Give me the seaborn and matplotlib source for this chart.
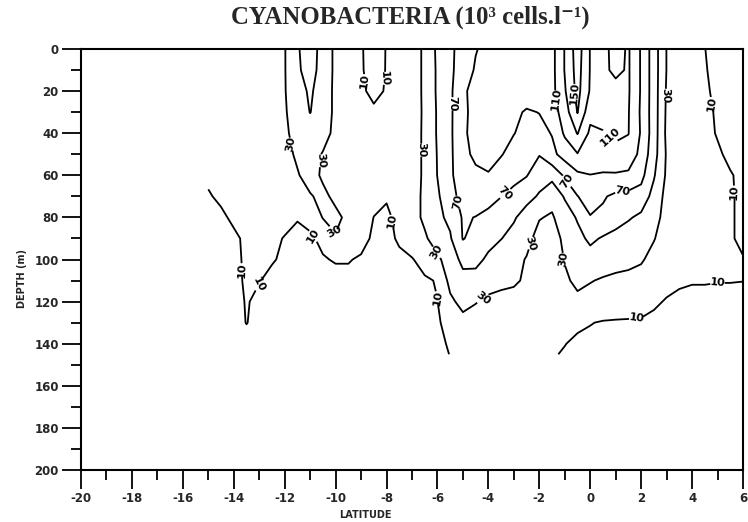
import numpy as np
import matplotlib
matplotlib.use("Agg")
import matplotlib.pyplot as plt
import seaborn as sns

# ---------------- data ----------------
latitudes = [-15, -14.5, -14, -13.5, -13, -12.5, -12, -11.5, -11, -10.5, -10,
             -9.5, -9, -8.5, -8, -7.5, -7, -6.5, -6, -5.5, -5, -4.5, -4, -3.5,
             -3, -2.5, -2, -1.5, -1, -0.5, 0, 0.5, 1, 1.5, 2, 2.5, 3, 3.5, 4,
             4.5, 5, 5.5, 6]
depths = [0, 10, 20, 30, 40, 50, 60, 70, 80, 90, 100, 110, 120, 130, 140, 145]

# cyanobacteria abundance (10^3 cells/l) per depth row, along latitudes
d000 = [22, 23, 24, 25, 25, 26, 29, 48, 60, 42, 26, 20, 11, 5, 10.5, 16, 22, 33, 54, 67, 76, 89, 95, 98, 100, 102, 104, 104, 131, 160, 129, 115, 104, 112, 88, 60, 29.5, 24, 17, 10.2, 6, 4, 3]
d010 = [21, 22, 23, 24, 25, 26, 29, 47, 58, 42, 26, 19, 11, 6, 10.5, 16, 22, 33, 53, 66, 80, 92, 96, 98, 100, 102, 104, 104, 131, 158, 129, 114, 106, 112, 88, 60, 29.5, 24, 17, 11, 6, 4, 3]
d020 = [20, 21, 22, 23, 24, 25, 29, 42, 53, 40, 26, 18, 12, 7, 11, 16, 22, 33, 53, 66, 88, 94, 96, 97, 98, 100, 102, 104, 128, 156, 128, 118, 116, 112, 88, 60, 28, 23, 18, 12, 7, 4, 3]
d030 = [19, 20, 21, 22, 23, 25, 28, 40, 50.5, 40, 26, 19, 14, 12, 13, 16, 21, 33, 52, 66, 88, 93, 96, 96, 94, 88, 90.5, 100, 120, 151, 116, 116, 116, 111, 87, 60, 27, 22, 18, 14, 8, 5, 3]
d040 = [18, 19, 20, 21, 22, 24, 27, 36, 40, 36, 26, 20, 16, 15, 15, 17, 22, 33, 52, 66, 89, 92, 94, 93, 90.5, 85, 84, 91, 113, 131, 106, 109, 114, 110.5, 88, 60, 26, 21, 17, 14, 9, 5, 3]
d050 = [17, 18, 19, 20, 21, 23, 26, 32, 36, 29, 24, 20, 17, 16, 16, 18, 22, 33, 51, 66, 86, 93, 95, 91, 84, 77, 71, 85, 98, 109, 104, 102, 104, 103, 84, 58, 28, 21, 17, 15, 12, 7, 4]
d060 = [12, 15, 17, 19, 20, 22, 24, 29, 35, 28, 23, 20, 18, 17, 17, 18, 22, 33, 50.5, 66, 83, 87, 89, 82, 76, 71, 58, 56, 73, 86, 89.5, 88, 88, 86, 76, 52, 27, 21, 18, 16, 14, 11, 7]
d070 = [9, 12, 15, 17, 19, 21, 23, 26, 29, 33, 27, 22, 18, 14, 11, 14, 20, 35, 47, 64, 76, 80, 78, 70.5, 64, 56, 48, 36, 52, 69.5, 78, 72, 66, 64, 62, 43, 24, 20, 17, 16, 14, 11, 8]
d080 = [4, 8, 12, 14, 15, 15, 13, 11, 14, 31, 33, 27, 17, 9.8, 8, 13, 22, 34, 46, 54, 72, 69.5, 64, 58, 52, 42, 31, 28, 40, 52, 69, 66, 58, 52, 46, 38, 22, 19, 17, 16, 15, 11, 8]
d090 = [2, 4, 8, 12, 13, 12, 9.5, 6, 8, 13, 29, 26, 16, 7, 6, 12, 19, 27, 40, 48, 71, 64, 57, 50.5, 44, 35, 24, 22, 34, 44, 54, 48, 44, 40, 36, 31, 21, 18, 17, 16, 14, 11, 8]
d100 = [1, 3, 7, 12, 12, 11, 8, 5, 6, 9, 11, 11, 8, 6, 6, 7, 9, 16, 26, 40, 55, 56, 46, 40, 35, 29, 20, 18, 31, 38, 42, 40, 37, 35, 32, 24, 19, 17, 16, 15, 14, 12, 10.5]
d110 = [1, 2, 6, 12, 10.5, 7, 5, 4, 4, 5, 6, 6, 5, 5, 5, 5, 6, 8, 11, 36, 44, 42, 38, 35, 33, 27, 18, 16, 27, 34, 31, 28, 26, 25, 23, 19, 14, 12, 11, 11, 10.5, 10.5, 10.2]
d120 = [1, 1, 5, 11, 7, 5, 4, 3, 3, 3, 4, 4, 4, 4, 4, 4, 5, 6, 9.8, 26, 36, 31, 26, 24, 23, 21, 16, 14, 20, 26, 23, 20, 19, 17, 15, 12, 9, 7, 6, 6, 6, 6, 6]
d130 = [1, 1, 4, 10.5, 5, 4, 4, 3, 3, 3, 3, 3, 3, 3, 3, 4, 4, 5, 8, 16, 24, 22, 20, 19, 18, 17, 15, 13, 13, 12, 10.5, 9, 8.5, 8.5, 8.5, 7, 6, 5, 5, 5, 5, 5, 5]
d140 = [1, 1, 2, 4, 3, 3, 3, 3, 3, 3, 3, 3, 3, 3, 3, 3, 4, 4, 6, 12, 18, 17, 16, 15, 15, 14, 13, 12, 10.3, 8, 7, 6, 6, 5, 5, 5, 4, 4, 4, 4, 4, 4, 4]
d145 = [1, 1, 2, 3, 3, 3, 3, 3, 3, 3, 3, 3, 3, 3, 3, 3, 3, 4, 5, 10.5, 16, 16, 15, 14, 14, 13, 12, 11, 9, 7, 6, 5, 5, 5, 5, 4, 4, 4, 4, 4, 4, 4, 4]

contour_levels = [10, 30, 50, 70, 90, 110, 130, 150]

x_ticks = [-20, -18, -16, -14, -12, -10, -8, -6, -4, -2, 0, 2, 4, 6]
y_ticks = [0, 20, 40, 60, 80, 100, 120, 140, 160, 180, 200]

title = "CYANOBACTERIA (10\u00b3 cells.l\u207b\u00b9)"
xlabel = "LATITUDE"
ylabel = "DEPTH (m)"

# label anchor points (placement only); unlabelled levels get no entry
label_spots = {
    10: [(-14.06, 105), (-13.0, 112), (-8.85, 15), (-8.0, 14), (-10.9, 89),
         (-7.9, 82), (-5.95, 118), (4.7, 26), (5.6, 68), (4.95, 108), (1.8, 127)],
    30: [(-11.65, 45), (-10.64, 53), (-10.1, 87), (-6.65, 48), (-5.95, 96),
         (-4.4, 116), (-2.4, 92), (-1.1, 100), (3.0, 22)],
    70: [(-5.4, 26), (-5.3, 73), (-3.4, 68), (-0.95, 63), (1.25, 67)],
    110: [(-1.35, 24), (0.75, 42)],
    150: [(-0.7, 21)],
}

# ---------------- drawing ----------------
sns.set_theme(style="ticks")
plt.rcParams["font.family"] = ["DejaVu Sans"]
plt.rcParams["axes.unicode_minus"] = False

grid = np.array([d000, d010, d020, d030, d040, d050, d060, d070, d080,
                 d090, d100, d110, d120, d130, d140, d145], dtype=float)

fig = plt.figure(figsize=(7.48, 5.22), dpi=100)
ax = fig.add_axes([0.1083, 0.0996, 0.885, 0.8065])

for lv in contour_levels:
    cs = ax.contour(latitudes, depths, grid, levels=[lv],
                    colors="black", linewidths=1.3)
    if lv in label_spots:
        ax.clabel(cs, manual=label_spots[lv], inline=True,
                  inline_spacing=2, fmt="%d", fontsize=8)
for t in ax.texts:
    t.set_fontweight("bold")

ax.set_xlim(-20, 6)
ax.set_ylim(200, 0)
ax.set_xticks(x_ticks)
ax.set_xticks(range(-20, 7), minor=True)
ax.set_yticks(y_ticks)
ax.set_yticks(range(0, 201, 10), minor=True)
ax.set_xticklabels([str(v) for v in x_ticks], fontsize=8.5, fontweight="bold")
ax.set_yticklabels([str(v) for v in y_ticks], fontsize=8.5, fontweight="bold")
ax.tick_params(which="major", length=14, width=1.3, direction="out",
               color="black", pad=2)
ax.tick_params(which="minor", length=7, width=1.3, direction="out",
               color="black")
for sp in ax.spines.values():
    sp.set_linewidth(1.5)
    sp.set_color("black")
    sp.set_visible(True)

ax.set_xlabel(xlabel, fontsize=7, fontweight="bold")
ax.set_ylabel(ylabel, fontsize=7, fontweight="bold")
ax.xaxis.set_label_coords(0.429, -0.095)
ax.yaxis.set_label_coords(-0.082, 0.456)

fig.text(0.549, 0.967, title, ha="center", va="center", fontsize=17.8,
         fontweight="bold", family=["Liberation Serif", "DejaVu Serif"])

fig.savefig("out.png", dpi=100, facecolor="white")
